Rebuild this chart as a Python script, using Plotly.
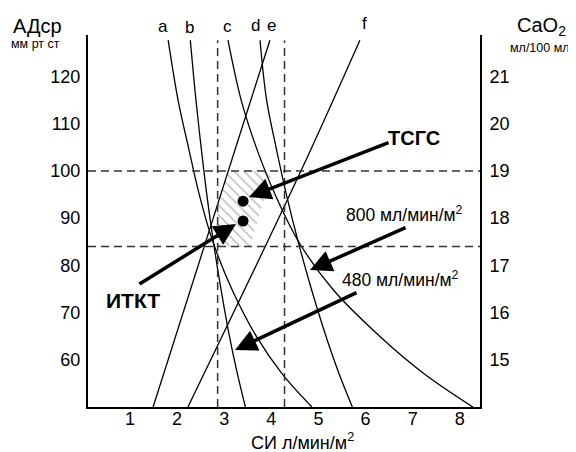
import plotly.graph_objects as go

# ---- data ----
adsr_levels = [127.7, 115, 105, 95, 85, 75, 65, 57, 50]       # АДср, мм рт ст
ci_a = [1.81, 2.02, 2.24, 2.47, 2.76, 3.16, 3.68, 4.23, 4.86]
ci_b = [2.28, 2.40, 2.51, 2.63, 2.77, 2.93, 3.11, 3.28, 3.45]
ci_c = [3.08, 3.36, 3.68, 4.08, 4.58, 5.30, 6.30, 7.25, 8.28]
ci_d = [3.76, 3.90, 4.10, 4.32, 4.57, 4.85, 5.16, 5.44, 5.72]

adsr_e = [50, 127.7]
ci_e = [1.49, 3.97]
adsr_f = [50, 99.6, 127.7]
ci_f = [2.23, 4.61, 5.88]

hatch_ci = [3.08, 4.02, 3.55, 2.86, 2.86]
hatch_adsr = [100, 100, 84, 84, 93]

points_ci = [3.40, 3.40]
points_adsr = [93.6, 89.4]

adsr_limits = [84, 100]
ci_limits = [2.86, 4.28]

x_ticks = [1, 2, 3, 4, 5, 6, 7, 8]
y_ticks = [60, 70, 80, 90, 100, 110, 120]
y2_ticks = [15, 16, 17, 18, 19, 20, 21]
curve_labels = ["a", "b", "c", "d", "e", "f"]

X_RANGE = [0.108, 8.43]
Y_RANGE = [50, 128.8]
Y2_RANGE = [14, 21.88]

FONT = "Arial, Liberation Sans, sans-serif"

# page offset of the plot div (browser body margin)
OFF = 8
# target geometry in window pixels
W, H = 576 - OFF, 452 - OFF
L, R, T, B = 88, 480, 35, 407


def px(xp, yp):
    return (xp - L) / (R - L), (B - yp) / (B - T)


fig = go.Figure()

# hatched region
fig.add_trace(go.Scatter(
    x=hatch_ci, y=hatch_adsr, fill="toself", mode="lines",
    line=dict(width=0, color="rgba(0,0,0,0)"),
    fillcolor="rgba(0,0,0,0)",
    fillpattern=dict(shape="\\", fgcolor="#444444", bgcolor="rgba(0,0,0,0)",
                     size=7, solidity=0.16),
    hoverinfo="skip", showlegend=False))

for ci in (ci_a, ci_b, ci_c, ci_d):
    fig.add_trace(go.Scatter(x=ci, y=adsr_levels, mode="lines",
                             line=dict(color="black", width=1.3, shape="spline", smoothing=1.0),
                             showlegend=False, hoverinfo="skip"))
fig.add_trace(go.Scatter(x=ci_e, y=adsr_e, mode="lines",
                         line=dict(color="black", width=1.3), showlegend=False))
fig.add_trace(go.Scatter(x=ci_f, y=adsr_f, mode="lines",
                         line=dict(color="black", width=1.3, shape="spline"), showlegend=False))

fig.add_trace(go.Scatter(x=points_ci, y=points_adsr, mode="markers",
                         marker=dict(color="black", size=11), showlegend=False))

# invisible trace for right axis
fig.add_trace(go.Scatter(x=[None], y=[None], yaxis="y2", showlegend=False))

dash = dict(color="#333333", width=1.5, dash="8px,5px")
for a in adsr_limits:
    fig.add_shape(type="line", xref="paper", yref="y", x0=0, x1=1, y0=a, y1=a, line=dash)
for c in ci_limits:
    fig.add_shape(type="line", xref="x", yref="y", x0=c, x1=c, y0=50, y1=127.7, line=dash)

ann = []


def text(s, xp, yp, size, bold=False, **kw):
    x, y = px(xp, yp)
    if bold:
        s = "<b>" + s + "</b>"
    ann.append(dict(text=s, x=x, y=y, xref="paper", yref="paper", showarrow=False,
                    xanchor=kw.get("xanchor", "center"), yanchor="middle", borderpad=0,
                    font=dict(family=FONT, size=size, color="black")))


def arrow(tail, tip):
    x, y = px(*tip)
    ann.append(dict(text="", x=x, y=y, xref="paper", yref="paper",
                    ax=tail[0] - tip[0], ay=tail[1] - tip[1],
                    showarrow=True, arrowhead=2, arrowsize=1.25, arrowwidth=3.5,
                    arrowcolor="black", standoff=0))


# curve labels
label_pos = [(162.7, 26.5), (189.3, 27), (227.7, 26), (255, 25), (271, 25), (364, 23.5)]
for lab, (xp, yp) in zip(curve_labels, label_pos):
    text(lab, xp, yp, 17)

text("АДср", 37.5, 26, 20)
text("мм рт ст", 35.5, 44, 12.5)
text("CaO<sub>2</sub>", 541, 26, 20)
text("мл/100 мл", 540, 48, 12.5)
text("СИ л/мин/м<sup>2</sup>", 302, 442, 18)

text("ТСГС", 413.5, 137.5, 20, bold=True)
text("ИТКТ", 133, 300, 21, bold=True)
text("800 мл/мин/м<sup>2</sup>", 404, 214, 17.5)
text("480 мл/мин/м<sup>2</sup>", 400, 279, 17.5)

arrow((390, 142), (249, 197))
arrow((138, 285), (236, 224))
arrow((407, 227), (310, 270))
arrow((358, 292), (235, 350))

fig.update_layout(
    width=W, height=H,
    margin=dict(l=L - OFF, r=W - (R - OFF), t=T - OFF, b=H - (B - OFF), pad=0),
    plot_bgcolor="white", paper_bgcolor="white",
    showlegend=False,
    font=dict(family=FONT, size=18, color="black"),
    annotations=ann,
    xaxis=dict(range=X_RANGE, tickvals=x_ticks, ticks="", showgrid=False, zeroline=False,
               showline=True, linecolor="black", linewidth=2, mirror=False,
               tickfont=dict(size=18), ticklabelstandoff=-6),
    yaxis=dict(range=Y_RANGE, tickvals=y_ticks, ticks="", showgrid=False, zeroline=False,
               showline=True, linecolor="black", linewidth=2, mirror=False,
               tickfont=dict(size=18), ticklabelstandoff=2),
    yaxis2=dict(range=Y2_RANGE, tickvals=y2_ticks, ticks="", showgrid=False, zeroline=False,
                overlaying="y", side="right",
                showline=True, linecolor="black", linewidth=2,
                tickfont=dict(size=18), ticklabelstandoff=4),
)

fig.write_html("out.html")
